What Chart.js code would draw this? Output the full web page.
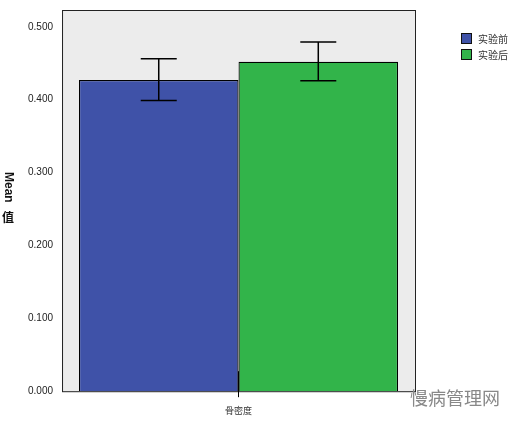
<!DOCTYPE html>
<html><head><meta charset="utf-8">
<script src="https://cdn.jsdelivr.net/npm/chart.js@4"></script>
<style>
body{margin:0;background:#fff;font-family:"Liberation Sans",Arial,sans-serif}
#wrap{position:relative;width:510px;height:422px}
.lg{position:absolute;left:461px;font:10px "Noto Sans CJK SC";color:#333;display:flex;align-items:center}
.lg i{display:inline-block;width:9px;height:9px;border:1px solid #111;margin-right:6px}
#wm{position:absolute;left:410px;top:384px;font:18px "Noto Sans CJK SC";color:#888}
</style></head><body>
<div id="wrap"><canvas id="c" width="510" height="422"></canvas>
<div class="lg" style="top:31px"><i style="background:#3f52a8"></i>实验前</div>
<div class="lg" style="top:47px"><i style="background:#32b44a"></i>实验后</div>
<div id="wm">慢病管理网</div>
</div>
<script>
const categories = ['骨密度'];
const seriesNames = ['实验前', '实验后'];
const means = [0.427, 0.452];
const errLow = [0.399, 0.426];
const errHigh = [0.456, 0.479];
const colors = ['#3f52a8', '#32b44a'];
const yTicks = [0, 0.1, 0.2, 0.3, 0.4, 0.5];

const bgPlugin = {
  id: 'bg',
  beforeDraw(chart) {
    const { ctx, chartArea: a } = chart;
    ctx.save();
    ctx.fillStyle = '#ececec';
    ctx.fillRect(a.left, a.top, a.right - a.left, a.bottom - a.top);
    ctx.strokeStyle = '#222';
    ctx.lineWidth = 1;
    ctx.strokeRect(a.left + 0.5, a.top + 0.5, a.right - a.left, a.bottom - a.top);
    ctx.restore();
  },
  afterDraw(chart) {
    const { ctx, chartArea: a } = chart;
    const y = chart.scales.y;
    ctx.save();
    ctx.strokeStyle = '#000';
    ctx.lineWidth = 1.5;
    chart.data.datasets.forEach((ds, i) => {
      const bar = chart.getDatasetMeta(i).data[0];
      const x = bar.x;
      const yl = y.getPixelForValue(errLow[i]), yh = y.getPixelForValue(errHigh[i]);
      ctx.beginPath();
      ctx.moveTo(x, yl); ctx.lineTo(x, yh);
      ctx.moveTo(x - 18, yl); ctx.lineTo(x + 18, yl);
      ctx.moveTo(x - 18, yh); ctx.lineTo(x + 18, yh);
      ctx.stroke();
    });
    // x tick mark at category centre
    const cx = chart.scales.x.getPixelForValue(0);
    ctx.lineWidth = 1;
    ctx.beginPath(); ctx.moveTo(cx, a.bottom - 20); ctx.lineTo(cx, a.bottom + 6); ctx.stroke();
    // axis title: "Mean" rotated, "值" upright
    ctx.fillStyle = '#111';
    ctx.font = 'bold 12px "Liberation Sans"';
    ctx.translate(8, 172);
    ctx.rotate(Math.PI / 2);
    ctx.textAlign = 'left';
    ctx.textBaseline = 'middle';
    ctx.fillText('Mean', 0, 0);
    ctx.restore();
    ctx.save();
    ctx.fillStyle = '#111';
    ctx.font = 'bold 12px "Noto Sans CJK SC"';
    ctx.textAlign = 'center';
    ctx.fillText('值', 8, 222);
    ctx.restore();
  }
};

new Chart(document.getElementById('c'), {
  type: 'bar',
  data: {
    labels: categories,
    datasets: seriesNames.map((n, i) => ({
      label: n, data: [means[i]], backgroundColor: colors[i],
      borderColor: '#000', borderWidth: 1.2,
      barPercentage: 1, categoryPercentage: 0.904
    }))
  },
  options: {
    responsive: false, animation: false,
    layout: { padding: { left: 25, right: 95, top: 10, bottom: 0 } },
    plugins: { legend: { display: false }, tooltip: { enabled: false } },
    scales: {
      x: {
        grid: { display: false },
        border: { display: false },
        ticks: { padding: 6, color: '#333', font: { size: 9, family: 'Noto Sans CJK SC' } }
      },
      y: {
        min: 0, max: 0.523,
        afterBuildTicks: s => { s.ticks = yTicks.map(v => ({ value: v })); },
        grid: { display: false, drawTicks: true, tickLength: 6, tickColor: '#222' },
        border: { display: false },
        ticks: { color: '#222', font: { size: 10 }, callback: v => v.toFixed(3) }
      }
    }
  },
  plugins: [bgPlugin]
});
</script></body></html>
